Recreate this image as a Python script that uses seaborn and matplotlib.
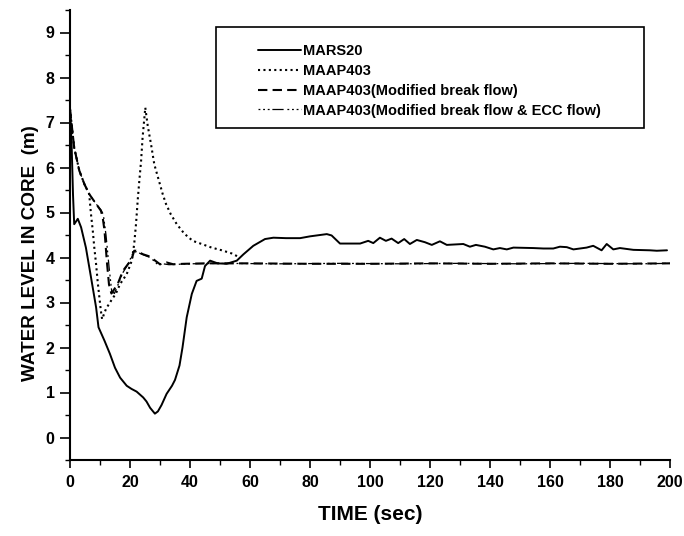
import matplotlib
matplotlib.use("Agg")
import matplotlib.pyplot as plt
from matplotlib.patches import Rectangle
from matplotlib.ticker import MultipleLocator
import seaborn as sns

# ---- series data: time (s) and collapsed water level in core (m) ----
mars20_t = [0, 0.5, 1.0, 1.4, 2.6, 3.7, 5.3, 7.0, 8.7, 9.5, 10.5, 11.5, 13.3, 15.0,
            16.7, 18.9, 20.5, 22.2, 24.4, 25.5, 26.7, 28.3, 29.3, 30.5, 32.2, 34.0,
            35.0, 36.5, 37.5, 38.9, 40.6, 42.2, 43.9, 45.0, 46.7, 49.2, 52.2, 55.6,
            57.8, 61.1, 65.0, 67.8, 72.0, 76.7, 80.0, 85.6, 87.2, 90.0, 96.7, 99.4,
            101.1, 103.3, 105.3, 107.2, 109.4, 111.4, 113.3, 115.6, 118.3, 120.6,
            123.3, 125.6, 131.1, 133.3, 135.3, 138.3, 141.1, 143.3, 145.6, 147.8,
            154.4, 157.8, 161.1, 163.3, 165.6, 167.8, 172.2, 174.4, 177.2, 178.9,
            181.1, 183.3, 187.8, 193.3, 195.6, 199.0]
mars20_h = [7.3, 6.6, 5.4, 4.74, 4.86, 4.67, 4.22, 3.56, 2.89, 2.45, 2.30, 2.15, 1.86, 1.55,
            1.33, 1.15, 1.08, 1.02, 0.89, 0.80, 0.66, 0.53, 0.58, 0.72, 0.97, 1.15,
            1.28, 1.60, 2.00, 2.67, 3.19, 3.48, 3.53, 3.81, 3.93, 3.87, 3.86, 3.93,
            4.07, 4.26, 4.41, 4.44, 4.43, 4.43, 4.47, 4.52, 4.49, 4.31, 4.31, 4.37,
            4.32, 4.44, 4.37, 4.42, 4.32, 4.41, 4.30, 4.39, 4.34, 4.28,
            4.36, 4.28, 4.30, 4.24, 4.28, 4.24, 4.18, 4.21, 4.18, 4.22,
            4.21, 4.20, 4.20, 4.24, 4.23, 4.18, 4.22, 4.26, 4.16, 4.30,
            4.18, 4.21, 4.17, 4.16, 4.15, 4.16]

maap_t = [0, 1.4, 3.1, 4.8, 6.4, 7.0, 7.6, 8.1, 8.7, 9.2, 9.8, 10.3, 10.7, 12.0, 13.7,
          15.3, 16.7, 18.9, 20.6, 21.4, 22.0, 22.6, 23.1, 23.7, 24.2, 24.8, 25.1,
          25.9, 27.0, 28.1, 29.2, 30.9, 32.0, 33.6, 35.6, 38.1, 40.9, 43.9, 47.2,
          50.6, 53.9, 56.0]
maap_h = [7.3, 6.44, 5.93, 5.63, 5.41, 4.96, 4.59, 4.22, 3.85, 3.48, 3.11, 2.81, 2.63, 2.86, 3.04,
          3.20, 3.41, 3.63, 3.93, 4.30, 4.74, 5.30, 5.70, 6.15, 6.67, 7.11, 7.33,
          6.93, 6.52, 6.07, 5.81, 5.41, 5.19, 4.96, 4.74, 4.53, 4.37, 4.30, 4.22,
          4.16, 4.09, 4.02]

brk_t = [0, 1.4, 3.1, 4.8, 6.4, 8.7, 10.3, 10.9, 11.5, 12.3, 13.0, 13.8, 14.6, 15.9,
         17.6, 19.3, 20.5, 21.4, 22.0, 24.4, 26.7, 28.4, 30.0, 32.2, 34.4, 38.0,
         45.0, 60.0, 80.0, 100.0, 120.0, 140.0, 160.0, 180.0, 200.0]
brk_h = [7.3, 6.44, 5.93, 5.63, 5.41, 5.19, 5.04, 4.89, 4.60, 3.90, 3.40, 3.20, 3.28, 3.41,
         3.70, 3.85, 3.95, 4.15, 4.15, 4.07, 4.02, 3.93, 3.85, 3.89, 3.85, 3.86,
         3.87, 3.87, 3.86, 3.86, 3.87, 3.86, 3.87, 3.86, 3.87]

ecc_t = [0, 1.4, 3.1, 4.8, 6.4, 8.7, 10.3, 11.1, 12.0, 13.0, 13.9, 14.8, 15.9, 17.6,
         19.3, 21.0, 22.0, 24.4, 26.7, 28.4, 29.4, 31.0, 33.0, 40.0, 50.0, 70.0,
         90.0, 110.0, 130.0, 150.0, 170.0, 190.0, 200.0]
ecc_h = [7.3, 6.44, 5.93, 5.63, 5.41, 5.19, 5.06, 4.96, 4.50, 3.80, 3.25, 3.20, 3.38, 3.66,
         3.85, 4.10, 4.13, 4.06, 4.00, 3.90, 3.83, 3.86, 3.84, 3.86, 3.87, 3.86,
         3.87, 3.86, 3.87, 3.86, 3.87, 3.86, 3.87]

labels = ["MARS20", "MAAP403", "MAAP403(Modified break flow)",
          "MAAP403(Modified break flow & ECC flow)"]

x_ticks = [0, 20, 40, 60, 80, 100, 120, 140, 160, 180, 200]
y_ticks = [0, 1, 2, 3, 4, 5, 6, 7, 8, 9]

sns.set_theme(style="white")
plt.rcParams["font.family"] = ["Liberation Sans", "DejaVu Sans"]
plt.rcParams["font.weight"] = "bold"
plt.rcParams.update({"text.color": "black", "axes.labelcolor": "black",
                     "xtick.color": "black", "ytick.color": "black"})

W, H = 684, 536
fig = plt.figure(figsize=(W / 100, H / 100), dpi=100)
ax = fig.add_axes([70 / W, 1 - 460 / H, 600 / W, 450 / H])

series = [
    (mars20_t, mars20_h, "-", 1.4),
    (maap_t, maap_h, (0, (1, 1.6)), 1.5),
    (brk_t, brk_h, (0, (4.5, 2.5)), 1.5),
    (ecc_t, ecc_h, (0, (1.5, 2.2, 1.5, 2.2, 1.5, 2.2, 9, 3)), 0.9),
]
for (t, h, ls, lw), lab in zip(series, labels):
    sns.lineplot(x=t, y=h, ax=ax, color="black", linestyle=ls, linewidth=lw,
                 label=lab, estimator=None, sort=False)

ax.set_xlim(0, 200)
ax.set_ylim(-0.5, 9.5)
ax.set_xticks(x_ticks)
ax.set_yticks(y_ticks)
ax.xaxis.set_minor_locator(MultipleLocator(10))
ax.yaxis.set_minor_locator(MultipleLocator(0.5))

for side in ("top", "right"):
    ax.spines[side].set_visible(False)
for side in ("left", "bottom"):
    ax.spines[side].set_linewidth(1.5)
    ax.spines[side].set_color("black")

ax.tick_params(axis="both", which="both", direction="out", colors="black",
               bottom=True, left=True)
ax.tick_params(axis="y", which="major", length=7, width=1.2, pad=4, labelsize=11.5)
ax.tick_params(axis="y", which="minor", length=3.5, width=1.0)
ax.tick_params(axis="x", which="major", length=6, width=1.2, pad=4.5, labelsize=11.5)
ax.tick_params(axis="x", which="minor", length=3.5, width=1.0)
for lbl in ax.get_xticklabels() + ax.get_yticklabels():
    lbl.set_fontweight("bold")

label_family = ["Liberation Sans Narrow", "Liberation Sans", "DejaVu Sans"]
ax.set_xlabel("TIME (sec)", family=label_family, weight="bold", size=15, color="black")
ax.set_ylabel("WATER LEVEL IN CORE  (m)", family=label_family, weight="bold",
              size=13.6, color="black")
ax.xaxis.label.set_va("center")
ax.yaxis.label.set_va("center")
ax.xaxis.set_label_coords(0.5, (460 - 514) / 450)
ax.yaxis.set_label_coords((31 - 70) / 600, (460 - 253) / 450)

# legend: entries without frame, box drawn as a separate rectangle
handles, labs = ax.get_legend_handles_labels()
if ax.get_legend() is not None:
    ax.get_legend().remove()
leg = ax.legend(handles, labs, loc="upper left", frameon=False,
                bbox_to_anchor=(258 / W, 1 - 44 / H), bbox_transform=fig.transFigure,
                borderpad=0, borderaxespad=0, handlelength=2.95, handletextpad=0.12,
                labelspacing=0.4, prop=dict(family=["Liberation Sans", "DejaVu Sans"],
                                             weight="bold", size=10.5))
for txt in leg.get_texts():
    txt.set_color("black")
fig.add_artist(Rectangle((216 / W, 1 - 128 / H), 428 / W, 101 / H,
                         transform=fig.transFigure, fill=False, ec="black", lw=1.2))

fig.savefig("out.png", dpi=100, facecolor="white")
